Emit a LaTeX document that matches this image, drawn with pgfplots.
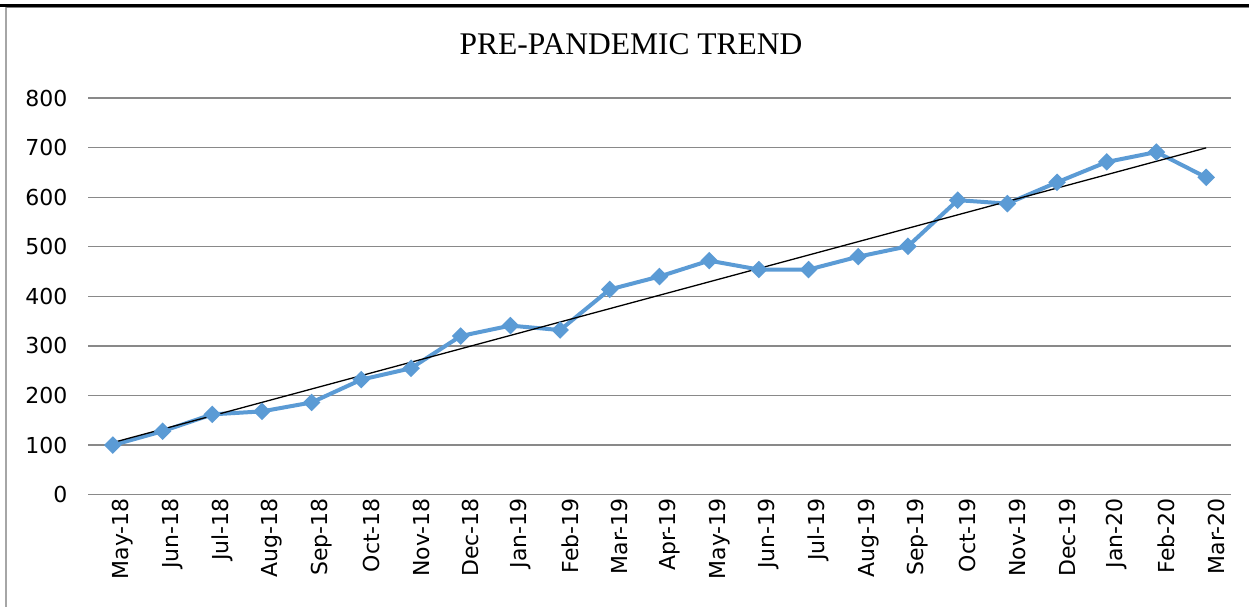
\documentclass[border=0pt]{standalone}
\usepackage{pgfplots}
\usepackage{pgfplotstable}
\pgfplotsset{compat=1.18}
\usepackage{fontspec}
\setmainfont{Liberation Serif}
\newfontfamily\tickfont{DejaVu Sans}
\definecolor{excelblue}{RGB}{91,155,213}
\definecolor{gridgray}{RGB}{137,137,137}
\definecolor{framegray}{RGB}{166,166,166}
\pgfplotstableread{
X Y
0 100
1 128
2 162
3 168
4 186
5 232
6 255
7 320
8 341
9 332
10 414
11 440
12 472
13 454
14 454
15 480
16 501
17 594
18 587
19 630
20 671
21 691
22 640
}\datatable
\begin{document}
\begin{tikzpicture}
\useasboundingbox (0,0) rectangle (1249bp,607bp);
\fill[white] (0,0) rectangle (1249bp,607bp);
\draw[framegray, line width=2bp] (6bp,0) -- (6bp,600bp);
\draw[black, line width=3.2bp] (0,601.5bp) -- (1249bp,601.5bp);
\draw[gray, line width=1bp] (6bp,599.5bp) -- (1249bp,599.5bp);
\node[anchor=base, font=\fontsize{31.5bp}{36bp}\selectfont] at (631bp,552bp) {PRE-PANDEMIC TREND};
\begin{axis}[
  at={(88bp,112.3bp)}, anchor=south west,
  scale only axis, width=1143bp, height=396.7bp,
  xmin=-0.5, xmax=22.5, ymin=0, ymax=800,
  ytick={0,100,...,800},
  xtick={0,...,22},
  xticklabels={May-18,Jun-18,Jul-18,Aug-18,Sep-18,Oct-18,Nov-18,Dec-18,Jan-19,Feb-19,Mar-19,Apr-19,May-19,Jun-19,Jul-19,Aug-19,Sep-19,Oct-19,Nov-19,Dec-19,Jan-20,Feb-20,Mar-20},
  ymajorgrids, grid style={gridgray, line width=1.3bp},
  axis line style={draw=none},
  tick style={draw=none},
  /pgf/number format/assume math mode=true,
  ticklabel style={font=\tickfont\fontsize{22bp}{26bp}\selectfont},
  yticklabel style={xshift=-17bp},
  xticklabel style={rotate=90, anchor=east, yshift=-10bp},
  clip=false,
]
\addplot[excelblue, line width=4bp, mark=square*, mark size=4.2bp, mark options={rotate=45, solid}] table[x=X, y=Y] {\datatable};
\addplot[black, line width=1.3bp, no marks] table[x=X, y={create col/linear regression={y=Y}}] {\datatable};
\end{axis}
\end{tikzpicture}
\end{document}
